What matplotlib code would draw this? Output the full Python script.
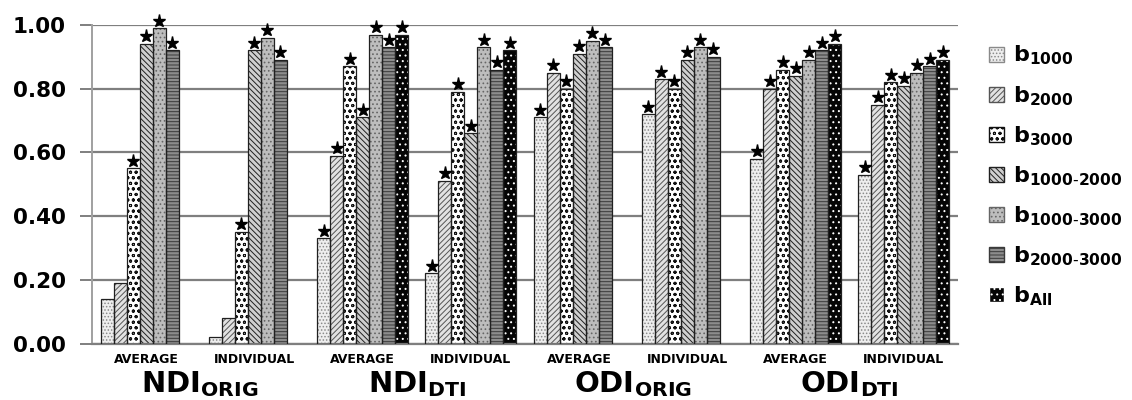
import numpy as np
import matplotlib
matplotlib.use('Agg')
import matplotlib.pyplot as plt
from matplotlib.patches import Patch
from matplotlib.transforms import blended_transform_factory

plt.rcParams['mathtext.fontset'] = 'dejavusans'
plt.rcParams['hatch.linewidth'] = 0.7

# categories
sub_groups = ['AVERAGE', 'INDIVIDUAL'] * 4
metric_labels = [r'$\mathbf{NDI}_{\mathbf{ORIG}}$', r'$\mathbf{NDI}_{\mathbf{DTI}}$',
                 r'$\mathbf{ODI}_{\mathbf{ORIG}}$', r'$\mathbf{ODI}_{\mathbf{DTI}}$']
series_labels = [r'$\mathbf{b}_{\mathbf{1000}}$', r'$\mathbf{b}_{\mathbf{2000}}$',
                 r'$\mathbf{b}_{\mathbf{3000}}$', r'$\mathbf{b}_{\mathbf{1000\text{-}2000}}$',
                 r'$\mathbf{b}_{\mathbf{1000\text{-}3000}}$', r'$\mathbf{b}_{\mathbf{2000\text{-}3000}}$',
                 r'$\mathbf{b}_{\mathbf{All}}$']
yticks = [0.0, 0.2, 0.4, 0.6, 0.8, 1.0]

# values per series (one per sub group), nan = no bar
b1000 = [0.14, 0.02, 0.33, 0.22, 0.71, 0.72, 0.58, 0.53]
b2000 = [0.19, 0.08, 0.59, 0.51, 0.85, 0.83, 0.80, 0.75]
b3000 = [0.55, 0.35, 0.87, 0.79, 0.80, 0.80, 0.86, 0.82]
b1000_2000 = [0.94, 0.92, 0.71, 0.66, 0.91, 0.89, 0.84, 0.81]
b1000_3000 = [0.99, 0.96, 0.97, 0.93, 0.95, 0.93, 0.89, 0.85]
b2000_3000 = [0.92, 0.89, 0.93, 0.86, 0.93, 0.90, 0.92, 0.87]
b_all = [np.nan, np.nan, 0.97, 0.92, np.nan, np.nan, 0.94, 0.89]

# significance stars (1 = star)
sig_b1000 = [0, 0, 1, 1, 1, 1, 1, 1]
sig_b2000 = [0, 0, 1, 1, 1, 1, 1, 1]
sig_rest = [1, 1, 1, 1, 1, 1, 1, 1]

series = [b1000, b2000, b3000, b1000_2000, b1000_3000, b2000_3000, b_all]
stars = [sig_b1000, sig_b2000, sig_rest, sig_rest, sig_rest, sig_rest, sig_rest]

# styles: facecolor, hatch, hatch colour
styles = [
    ('#eeeeee', '.....', '#8a8a8a'),
    ('#e2e2e2', '//////', '#555555'),
    ('#ffffff', 'ooo', '#111111'),
    ('#cfcfcf', '\\\\\\\\\\\\', '#202020'),
    ('#bdbdbd', '....', '#666666'),
    ('#8c8c8c', '-----', '#3a3a3a'),
    ('#050505', '...', '#ffffff'),
]

fig = plt.figure(figsize=(11.32, 4.0), dpi=100)
ax = fig.add_axes([92 / 1132, 56.5 / 400, 866 / 1132, 318.5 / 400])

x = np.arange(len(sub_groups))
width = 0.12
grid_col = '#7f7f7f'

ax.set_axisbelow(True)
ax.yaxis.grid(True, color=grid_col, linewidth=1.6)

for i, (vals, sig, (fc, hatch, hc)) in enumerate(zip(series, stars, styles)):
    pos = x + (i - 3) * width
    vals = np.array(vals, dtype=float)
    ok = ~np.isnan(vals)
    ax.bar(pos[ok], vals[ok], width, color=fc, hatch=hatch, edgecolor=hc, linewidth=0, zorder=2)
    ax.bar(pos[ok], vals[ok], width, fill=False, edgecolor='#202020', linewidth=0.9, zorder=3)
    sx = [p for p, v, s in zip(pos, vals, sig) if s and not np.isnan(v)]
    sy = [v + 0.024 for v, s in zip(vals, sig) if s and not np.isnan(v)]
    ax.plot(sx, sy, linestyle='none', marker='*', color='black', markersize=9.5,
            clip_on=False, zorder=4)

ax.set_xlim(-0.5, 7.5)
ax.set_ylim(0, 1.0)
ax.set_yticks(yticks)
ax.set_yticklabels(['%.2f' % t for t in yticks], fontsize=15.5, fontweight='bold')
ax.tick_params(axis='y', length=9, width=1.4, color=grid_col, pad=10)
ax.set_xticks([])

for side in ['top', 'right']:
    ax.spines[side].set_visible(False)
ax.spines['left'].set_color('#a0a0a0')
ax.spines['left'].set_linewidth(1.4)
ax.spines['bottom'].set_color(grid_col)
ax.spines['bottom'].set_linewidth(1.6)

trans = blended_transform_factory(ax.transData, ax.transAxes)
for xi, lab in zip(x, sub_groups):
    ax.text(xi, -0.049, lab, transform=trans, ha='center', va='center',
            fontsize=9, fontweight='bold')
for k, lab in enumerate(metric_labels):
    ax.text(2 * k + 0.5, -0.128, lab, transform=trans, ha='center', va='center',
            fontsize=21)

handles = [Patch(facecolor=fc, hatch=h, edgecolor=hc) for fc, h, hc in styles]
fig.legend(handles, series_labels, loc='upper left', bbox_to_anchor=(980 / 1132, 1 - 35 / 400),
           frameon=False, fontsize=16, handlelength=0.7, handleheight=0.65,
           handletextpad=0.4, labelspacing=0.74, borderaxespad=0)

fig.savefig('out.png', dpi=100)
